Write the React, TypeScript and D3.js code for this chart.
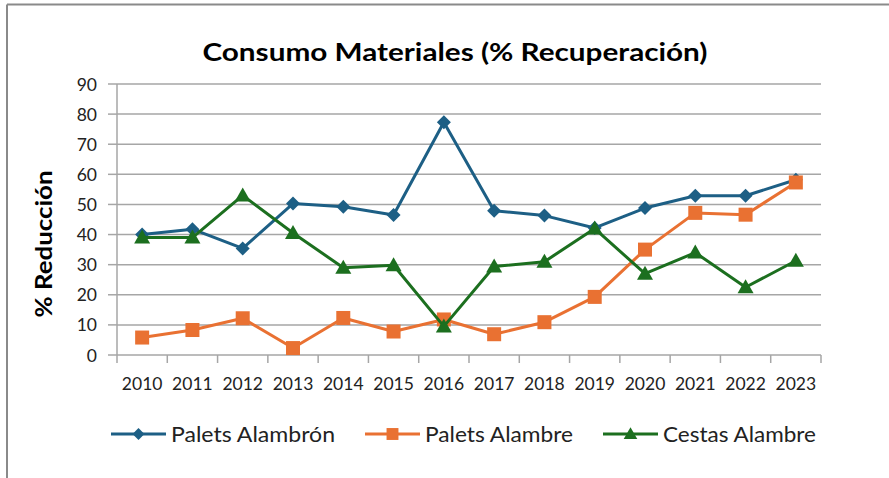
import React from "react";
import * as d3 from "d3";

const years = ["2010","2011","2012","2013","2014","2015","2016","2017","2018","2019","2020","2021","2022","2023"];
const paletsAlambron = [40, 41.8, 35.4, 50.3, 49.2, 46.5, 77.3, 47.9, 46.3, 42.2, 48.8, 52.9, 52.9, 58.2];
const paletsAlambre = [5.8, 8.3, 12.2, 2.3, 12.3, 7.8, 11.8, 6.9, 10.9, 19.3, 35.0, 47.2, 46.6, 57.3];
const cestasAlambre = [39, 39, 53, 40.5, 29, 29.8, 9.5, 29.4, 31, 42, 27, 34, 22.5, 31.3];
const yTicks = [0, 10, 20, 30, 40, 50, 60, 70, 80, 90];
const seriesNames = ["Palets Alambrón", "Palets Alambre", "Cestas Alambre"];
const seriesColors = ["#1d5f85", "#e97132", "#1c6f1f"];
const seriesShapes = ["diamond", "square", "triangle"];

const W = 889, H = 478;
const left = 117, right = 821, top = 84, bottom = 355;
const FONT = "Lato, 'Open Sans', sans-serif";

function Marker({ shape, x, y, color, scale = 1 }: { shape: string; x: number; y: number; color: string; scale?: number }) {
  if (shape === "diamond") {
    const r = 7 * scale;
    return <path d={`M${x},${y - r}L${x + r},${y}L${x},${y + r}L${x - r},${y}Z`} fill={color} />;
  }
  if (shape === "square") {
    const s = 14 * scale;
    return <rect x={x - s / 2} y={y - s / 2} width={s} height={s} fill={color} />;
  }
  const s = 8 * scale;
  return <path d={`M${x},${y - s}L${x + s},${y + 6 * scale}L${x - s},${y + 6 * scale}Z`} fill={color} />;
}

export default function App() {
  const x = d3.scaleBand().domain(years).range([left, right]);
  const y = d3.scaleLinear().domain([0, 90]).range([bottom, top]);
  const data = [paletsAlambron, paletsAlambre, cestasAlambre];
  const line = d3.line<number>().x((_, i) => x(years[i])! + x.bandwidth() / 2).y((d) => y(d));
  const boundaries = d3.range(years.length + 1).map((i) => left + i * x.bandwidth());
  const legendX = [111, 365, 603];
  const legendW = [164, 148, 153];
  const legendY = 434;

  return (
    <svg width={W} height={H} style={{ position: "absolute", left: 0, top: 0, background: "#fff" }} fontFamily={FONT}>
      <rect x={0} y={0} width={W} height={H} fill="#fff" />
      <line x1={7} y1={4.5} x2={W} y2={4.5} stroke="#8a8a8a" strokeWidth={2} />
      <line x1={7} y1={4.5} x2={7} y2={H} stroke="#8a8a8a" strokeWidth={2} />
      <text x={455} y={61} textAnchor="middle" fontSize={25} fontWeight="bold" fill="#000"
        textLength={505} lengthAdjust="spacingAndGlyphs">Consumo  Materiales (% Recuperación)</text>
      {yTicks.map((t) => (
        <g key={t}>
          {t > 0 && <line x1={left} x2={right} y1={y(t)} y2={y(t)} stroke="#a6a6a6" strokeWidth={1.5} />}
          <line x1={108} x2={left} y1={y(t)} y2={y(t)} stroke="#a6a6a6" strokeWidth={1.5} />
          <text x={97} y={y(t) + 6.5} textAnchor="end" fontSize={17.5} fill="#222">{t}</text>
        </g>
      ))}
      <line x1={left} x2={left} y1={top} y2={bottom} stroke="#a6a6a6" strokeWidth={1.5} />
      <line x1={left} x2={right} y1={bottom} y2={bottom} stroke="#a6a6a6" strokeWidth={1.5} />
      {boundaries.map((b, i) => (
        <line key={i} x1={b} x2={b} y1={bottom} y2={bottom + 8} stroke="#a6a6a6" strokeWidth={1.5} />
      ))}
      {years.map((yr) => (
        <text key={yr} x={x(yr)! + x.bandwidth() / 2} y={390} textAnchor="middle" fontSize={17.5} fill="#222">{yr}</text>
      ))}
      <text transform={`translate(52,244) rotate(-90)`} textAnchor="middle" fontSize={23} fontWeight="bold" fill="#000"
        textLength={147} lengthAdjust="spacingAndGlyphs">% Reducción</text>
      {data.map((vals, si) => (
        <g key={si}>
          <path d={line(vals)!} fill="none" stroke={seriesColors[si]} strokeWidth={3} strokeLinejoin="round" />
          {vals.map((v, i) => (
            <Marker key={i} shape={seriesShapes[si]} x={x(years[i])! + x.bandwidth() / 2} y={y(v)} color={seriesColors[si]} />
          ))}
        </g>
      ))}
      {seriesNames.map((n, si) => (
        <g key={n}>
          <line x1={legendX[si]} x2={legendX[si] + 55} y1={legendY} y2={legendY} stroke={seriesColors[si]} strokeWidth={3} />
          <Marker shape={seriesShapes[si]} x={legendX[si] + 27.5} y={legendY} color={seriesColors[si]} scale={0.85} />
          <text x={legendX[si] + 60} y={legendY + 8} fontSize={22} fill="#222"
            textLength={legendW[si]} lengthAdjust="spacingAndGlyphs">{n}</text>
        </g>
      ))}
    </svg>
  );
}
